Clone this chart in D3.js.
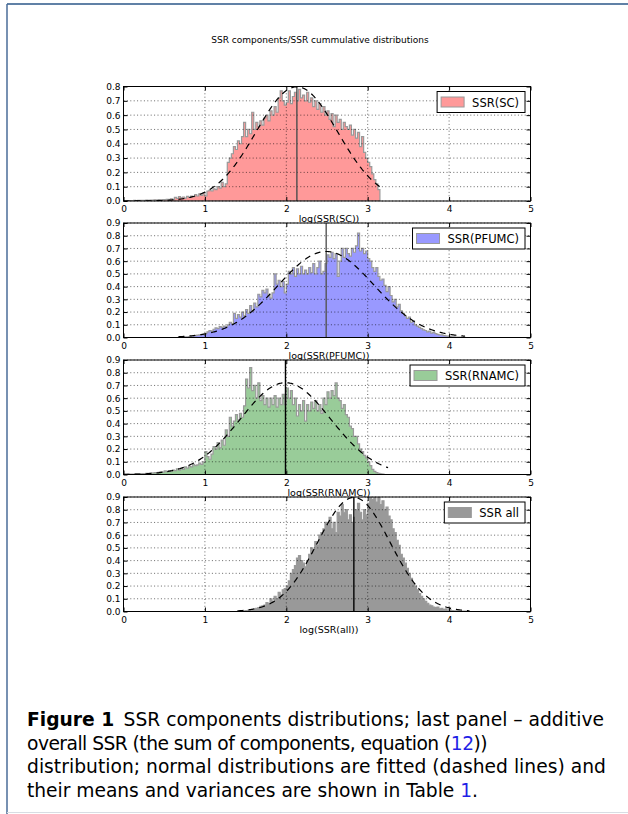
<!DOCTYPE html>
<html><head><meta charset="utf-8">
<script src="https://cdn.jsdelivr.net/npm/d3@7"></script>
<style>body{margin:0;background:#fff;} svg{display:block}</style>
</head><body>
<script>
// ---------------- data ----------------
const title = "SSR components/SSR cummulative distributions";
const categories = ["SSR(SC)", "SSR(PFUMC)", "SSR(RNAMC)", "SSR all"];
const xLabels = ["log(SSR(SC))", "log(SSR(PFUMC))", "log(SSR(RNAMC))", "log(SSR(all))"];
const xTickValues = [0, 1, 2, 3, 4, 5];
const yMaxes = [0.8, 0.9, 0.9, 0.9];
const binWidth = 0.025;
const binStarts = [0, 0.675, 0, 1.4];

const scValues = [
0.002,0.002,0.003,0.002,0.003,0.004,0.003,0.004,0.004,0.005,
0.004,0.006,0.005,0.007,0.006,0.008,0.007,0.009,0.008,0.010,
0.009,0.012,0.010,0.015,0.012,0.025,0.018,0.030,0.022,0.028,
0.020,0.032,0.025,0.035,0.030,0.045,0.035,0.050,0.040,0.055,
0.035,0.070,0.075,0.070,0.085,0.080,0.100,0.090,0.130,0.100,
0.120,0.270,0.300,0.330,0.380,0.360,0.420,0.400,0.450,0.550,
0.450,0.500,0.470,0.620,0.500,0.550,0.520,0.560,0.530,0.580,
0.600,0.560,0.630,0.600,0.660,0.620,0.720,0.770,0.700,0.670,
0.690,0.770,0.680,0.730,0.760,0.700,0.780,0.720,0.740,0.700,
0.760,0.690,0.720,0.660,0.700,0.640,0.680,0.620,0.660,0.600,
0.630,0.570,0.610,0.520,0.600,0.550,0.570,0.500,0.550,0.520,
0.500,0.530,0.460,0.500,0.440,0.480,0.380,0.450,0.340,0.300,
0.270,0.240,0.190,0.150,0.120,0.080];

const pfumcValues = [
0.003,0.005,0.004,0.006,0.005,0.008,0.010,0.012,0.015,0.018,
0.020,0.022,0.025,0.030,0.045,0.055,0.050,0.065,0.075,0.070,
0.085,0.080,0.090,0.085,0.100,0.120,0.110,0.190,0.150,0.180,
0.160,0.200,0.170,0.220,0.190,0.250,0.210,0.270,0.240,0.340,
0.320,0.370,0.350,0.380,0.330,0.310,0.350,0.500,0.420,0.450,
0.400,0.440,0.350,0.420,0.520,0.500,0.550,0.480,0.540,0.500,
0.560,0.500,0.530,0.500,0.550,0.510,0.580,0.500,0.550,0.600,
0.500,0.520,0.580,0.650,0.630,0.670,0.620,0.660,0.480,0.600,
0.700,0.630,0.700,0.660,0.640,0.700,0.670,0.720,0.820,0.680,
0.700,0.660,0.680,0.620,0.600,0.550,0.520,0.550,0.480,0.450,
0.460,0.410,0.360,0.400,0.330,0.280,0.300,0.240,0.260,0.210,
0.190,0.170,0.150,0.160,0.120,0.130,0.100,0.090,0.080,0.070,
0.060,0.055,0.045,0.050,0.035,0.040,0.030,0.025,0.020,0.020,
0.015,0.012,0.010,0.008,0.006,0.005,0.004,0.003,0.003,0.002,
0.002];

const rnamcValues = [
0.002,0.002,0.003,0.003,0.004,0.004,0.005,0.006,0.006,0.008,
0.007,0.010,0.009,0.012,0.011,0.014,0.013,0.017,0.022,0.018,
0.028,0.022,0.030,0.026,0.035,0.030,0.045,0.035,0.050,0.040,
0.060,0.050,0.065,0.060,0.080,0.070,0.075,0.090,0.080,0.100,
0.180,0.140,0.120,0.160,0.220,0.200,0.250,0.210,0.270,0.230,
0.350,0.300,0.450,0.380,0.420,0.470,0.430,0.480,0.450,0.540,
0.750,0.680,0.840,0.660,0.700,0.600,0.720,0.580,0.620,0.550,
0.600,0.530,0.600,0.550,0.620,0.530,0.600,0.550,0.630,0.550,
0.680,0.600,0.660,0.550,0.600,0.460,0.550,0.500,0.580,0.420,
0.550,0.500,0.570,0.520,0.580,0.500,0.550,0.480,0.600,0.550,
0.650,0.600,0.660,0.620,0.720,0.600,0.580,0.520,0.550,0.470,
0.450,0.380,0.360,0.300,0.300,0.240,0.200,0.180,0.150,0.130,
0.100,0.070,0.040,0.025,0.015,0.010,0.005,0.003];

const allValues = [
0.002,0.003,0.004,0.006,0.008,0.010,0.012,0.015,0.020,0.025,
0.030,0.040,0.045,0.050,0.070,0.060,0.100,0.080,0.120,0.100,
0.150,0.130,0.170,0.180,0.200,0.240,0.300,0.330,0.360,0.420,
0.440,0.400,0.380,0.350,0.400,0.450,0.500,0.480,0.550,0.520,
0.600,0.620,0.650,0.700,0.680,0.740,0.650,0.700,0.620,0.780,
0.750,0.840,0.780,0.800,0.720,0.760,0.700,0.740,0.800,0.850,
0.780,0.720,0.800,0.760,0.850,0.900,0.880,0.920,0.860,0.900,
0.840,0.870,0.800,0.820,0.750,0.720,0.650,0.620,0.560,0.520,
0.450,0.420,0.380,0.340,0.300,0.260,0.220,0.200,0.170,0.140,
0.120,0.100,0.080,0.065,0.050,0.045,0.035,0.030,0.035,0.020,
0.025,0.015,0.020,0.010,0.012,0.008,0.006,0.005,0.004,0.004,
0.003,0.003,0.002,0.002];

const seriesValues = [scValues, pfumcValues, rnamcValues, allValues];
const fillColors = ["#ff9999", "#9999ff", "#99cc99", "#999999"];
const meanLineColors = ["#4d4d4d", "#555555", "#000000", "#000000"];
const means = [2.13, 2.49, 1.99, 2.83];
const sigmas = [0.50, 0.59, 0.553, 0.445];
const fitFrom = [0, 0.675, 0, 1.4];
const fitTo = [3.15, 4.2, 3.25, 4.25];

const captionLines = [
  [{t: "Figure 1", b: true}, {t: "\u2002SSR components distributions; last panel \u2013 additive"}],
  [{t: "overall SSR (the sum of components, equation ("}, {t: "12", link: true}, {t: "))"}],
  [{t: "distribution; normal distributions are fitted (dashed lines) and"}],
  [{t: "their means and variances are shown in Table "}, {t: "1", link: true}, {t: "."}]
];
const captionEnds = [604, 487, 606, 478];

// ---------------- layout ----------------
const W = 628, H = 814;
const left = 123.5, right = 530.5;
const tops = [86.5, 223, 360, 497];
const ph = 114.5;

const svg = d3.select("body").append("svg").attr("width", W).attr("height", H)
  .style("font-family", "'DejaVu Sans', sans-serif");

// page border
svg.append("line").attr("x1", 7).attr("x2", W).attr("y1", 4).attr("y2", 4)
  .attr("stroke", "#2b5788").attr("stroke-width", 1.5);
svg.append("line").attr("x1", 7).attr("x2", 7).attr("y1", 4).attr("y2", H)
  .attr("stroke", "#4a6d99").attr("stroke-width", 1.5);
svg.append("line").attr("x1", 7).attr("x2", W).attr("y1", 812.5).attr("y2", 812.5)
  .attr("stroke", "#d8dde3").attr("stroke-width", 1);

svg.append("text").attr("x", 320).attr("y", 43).attr("text-anchor", "middle")
  .attr("font-size", 9).text(title);

const x = d3.scaleLinear().domain([0, 5]).range([left, right]);

categories.forEach((cat, i) => {
  const top = tops[i], bottom = top + ph;
  const y = d3.scaleLinear().domain([0, yMaxes[i]]).range([bottom, top]);
  const g = svg.append("g");
  const clipId = "clip" + i;
  g.append("clipPath").attr("id", clipId).append("rect")
    .attr("x", left).attr("y", top).attr("width", right - left).attr("height", ph);
  g.append("rect").attr("x", left).attr("y", top).attr("width", right - left).attr("height", ph)
    .attr("fill", "#fff");

  // histogram (stepfilled)
  const vals = seriesValues[i];
  const pts = [[binStarts[i], 0]];
  vals.forEach((v, k) => {
    const x0 = binStarts[i] + k * binWidth;
    pts.push([x0, v]); pts.push([x0 + binWidth, v]);
  });
  pts.push([binStarts[i] + vals.length * binWidth, 0]);
  const line = d3.line().x(d => x(d[0])).y(d => y(d[1]));
  g.append("path").attr("d", line(pts) + "Z").attr("clip-path", `url(#${clipId})`)
    .attr("fill", fillColors[i]).attr("stroke", "#9a9a9a").attr("stroke-width", 1.2)
    .attr("stroke-linejoin", "miter");

  // grid
  const yTicks = d3.range(0, Math.round(yMaxes[i] * 10) + 1).map(k => k / 10);
  g.selectAll(".gx").data(xTickValues).join("line")
    .attr("x1", d => x(d)).attr("x2", d => x(d)).attr("y1", top).attr("y2", bottom)
    .attr("stroke", "#000").attr("stroke-width", 0.6).attr("stroke-dasharray", "1,2.4");
  g.selectAll(".gy").data(yTicks).join("line")
    .attr("x1", left).attr("x2", right).attr("y1", d => y(d)).attr("y2", d => y(d))
    .attr("stroke", "#000").attr("stroke-width", 0.6).attr("stroke-dasharray", "1,2.4");

  // mean line
  g.append("line").attr("x1", x(means[i])).attr("x2", x(means[i]))
    .attr("y1", bottom).attr("y2", top)
    .attr("stroke", meanLineColors[i]).attr("stroke-width", 1.4);

  // fitted normal
  const fit = d3.range(fitFrom[i], fitTo[i] + 1e-9, 0.01).map(t =>
    [t, Math.exp(-0.5 * ((t - means[i]) / sigmas[i]) ** 2) / (sigmas[i] * Math.sqrt(2 * Math.PI))]);
  g.append("path").attr("d", line(fit)).attr("clip-path", `url(#${clipId})`)
    .attr("fill", "none").attr("stroke", "#000").attr("stroke-width", 1.2)
    .attr("stroke-dasharray", "6,5");

  // frame
  g.append("rect").attr("x", left).attr("y", top).attr("width", right - left).attr("height", ph)
    .attr("fill", "none").attr("stroke", "#000").attr("stroke-width", 1);

  // axes via d3
  const xa = g.append("g").attr("transform", `translate(0,${bottom})`)
    .call(d3.axisBottom(x).tickValues(xTickValues).tickSize(-4).tickPadding(5).tickFormat(d3.format("d")));
  xa.select(".domain").remove();
  xa.selectAll("text").attr("font-size", 9).attr("font-family", "'DejaVu Sans', sans-serif").attr("fill", "#000");
  const xt = g.append("g").attr("transform", `translate(0,${top})`)
    .call(d3.axisTop(x).tickValues(xTickValues).tickSize(-4).tickFormat(""));
  xt.select(".domain").remove();
  const ya = g.append("g").attr("transform", `translate(${left},0)`)
    .call(d3.axisLeft(y).tickValues(yTicks).tickSize(-4).tickPadding(3).tickFormat(d3.format(".1f")));
  ya.select(".domain").remove();
  ya.selectAll("text").attr("font-size", 9).attr("font-family", "'DejaVu Sans', sans-serif").attr("fill", "#000");
  const yr = g.append("g").attr("transform", `translate(${right},0)`)
    .call(d3.axisRight(y).tickValues(yTicks).tickSize(-4).tickFormat(""));
  yr.select(".domain").remove();

  // x label
  g.append("text").attr("x", (left + right) / 2 + 2).attr("y", bottom + 21)
    .attr("text-anchor", "middle").attr("font-size", 9.5).text(xLabels[i]);

  // legend
  const lg = g.append("g");
  const lt = lg.append("text").attr("font-size", 11.5).text(cat);
  const tw = lt.node().getComputedTextLength();
  const bw = 4 + 23 + 8 + tw + 6, bh = 21;
  const bx = right - 5.5 - bw, by = top + 5;
  lg.insert("rect", "text").attr("x", bx).attr("y", by).attr("width", bw).attr("height", bh)
    .attr("fill", "#fff").attr("stroke", "#000").attr("stroke-width", 1);
  lg.insert("rect", "text").attr("x", bx + 4).attr("y", by + 5.5).attr("width", 23).attr("height", 10)
    .attr("fill", fillColors[i]).attr("stroke", "#9a9a9a").attr("stroke-width", 1);
  lt.attr("x", bx + 35).attr("y", by + 15);
});

// caption
const capTexts = captionLines.map((segs, li) => {
  const t = svg.append("text").attr("x", 27).attr("y", 726 + li * 23.6)
    .attr("font-size", 16).attr("font-family", "'DejaVu Sans', sans-serif").attr("fill", "#000");
  segs.forEach(s => {
    t.append("tspan").text(s.t)
      .attr("font-weight", s.b ? "bold" : null)
      .attr("fill", s.link ? "#1f1fe6" : null);
  });
  return t;
});
// choose a size so that the full line 1 fits the reference width
const w0 = capTexts[0].node().getComputedTextLength();
const capSize = 16 * (captionEnds[0] - 27) / w0;
capTexts.forEach((t, li) => {
  t.attr("font-size", capSize.toFixed(2));
  const w = t.node().getComputedTextLength();
  const n = t.text().length;
  const target = captionEnds[li] - 27;
  t.attr("letter-spacing", ((target - w) / n).toFixed(3));
});
</script>
</body></html>
